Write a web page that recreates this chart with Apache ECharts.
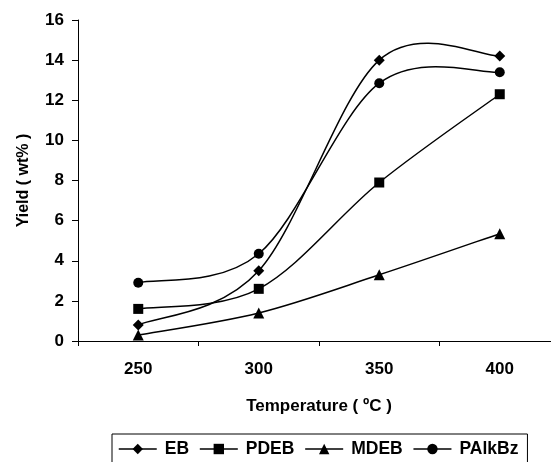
<!DOCTYPE html>
<html>
<head>
<meta charset="utf-8">
<script src="https://cdn.jsdelivr.net/npm/echarts@6/dist/echarts.min.js"></script>
<style>
  html, body { margin: 0; padding: 0; background: #fff; }
  #chart { width: 551px; height: 462px; }
</style>
</head>
<body>
<div id="chart"></div>
<script>
// 温度类目
var temperatures = ["250", "300", "350", "400"];
// 各产物收率 (wt%)
var ebData = [0.8, 3.5, 14.0, 14.2];
var pdebData = [1.6, 2.6, 7.9, 12.3];
var mdebData = [0.3, 1.4, 3.3, 5.35];
var palkbzData = [2.9, 4.35, 12.85, 13.4];

var font = "Arial, 'Liberation Sans', sans-serif";

// 把一条折线拆成若干段，每段带上前后相邻点，用来算平滑曲线
function buildSegments(values) {
  var segs = [];
  var last = values.length - 1;
  for (var i = 0; i < last; i++) {
    segs.push([i, values[i], values[i + 1], values[Math.max(i - 1, 0)], values[Math.min(i + 2, last)]]);
  }
  return segs;
}

// 类似 Excel 的平滑线 (Catmull-Rom)
function renderCurve(params, api) {
  var last = temperatures.length - 1;
  var i = api.value(0);
  var a = api.coord([i, api.value(1)]);
  var b = api.coord([i + 1, api.value(2)]);
  var p = api.coord([Math.max(i - 1, 0), api.value(3)]);
  var n = api.coord([Math.min(i + 2, last), api.value(4)]);
  return {
    type: "bezierCurve",
    shape: {
      x1: a[0], y1: a[1],
      x2: b[0], y2: b[1],
      cpx1: a[0] + (b[0] - p[0]) / 6,
      cpy1: a[1] + (b[1] - p[1]) / 6,
      cpx2: b[0] - (n[0] - a[0]) / 6,
      cpy2: b[1] - (n[1] - a[1]) / 6,
    },
    style: { stroke: "#000", lineWidth: 1.5, fill: null },
    silent: true,
  };
}

function makeCurve(name, data) {
  return {
    name: name + "-curve",
    type: "custom",
    data: buildSegments(data),
    encode: { x: 0, y: 1 },
    renderItem: renderCurve,
    z: 1,
  };
}

function makeSeries(name, data, symbol, size) {
  return {
    name: name,
    type: "line",
    data: data,
    symbol: symbol,
    symbolSize: size,
    color: "#000",
    lineStyle: { color: "#000", width: 1.5, opacity: 0 },
    itemStyle: { color: "#000" },
    z: 3,
  };
}

var chart = echarts.init(document.getElementById("chart"));
chart.setOption({
  animation: false,
  grid: { left: 78, top: 20, width: 482, height: 321, outerBoundsMode: "none" },
  xAxis: {
    type: "category",
    data: temperatures,
    boundaryGap: true,
    name: "Temperature ( ºC )",
    nameLocation: "middle",
    nameGap: 57,
    nameTextStyle: { color: "#000", fontFamily: font, fontWeight: "bold", fontSize: 17 },
    axisLine: { lineStyle: { color: "#000", width: 1 } },
    axisTick: { show: true, length: 5, lineStyle: { color: "#000" } },
    axisLabel: { color: "#000", fontFamily: font, fontWeight: "bold", fontSize: 17, margin: 20 },
    splitLine: { show: false },
  },
  yAxis: {
    type: "value",
    min: 0,
    max: 16,
    interval: 2,
    name: "Yield ( wt% )",
    nameLocation: "middle",
    nameGap: 46,
    nameRotate: 90,
    nameTextStyle: { color: "#000", fontFamily: font, fontWeight: "bold", fontSize: 16 },
    axisLine: { show: true, lineStyle: { color: "#000", width: 1 } },
    axisTick: { show: true, length: 6, lineStyle: { color: "#000" } },
    axisLabel: { color: "#000", fontFamily: font, fontWeight: "bold", fontSize: 17, margin: 14 },
    splitLine: { show: false },
  },
  legend: {
    top: 434,
    left: 112,
    padding: [6, 9, 7, 6],
    itemWidth: 38,
    itemHeight: 13,
    itemGap: 10,
    borderColor: "#000",
    borderWidth: 1,
    lineStyle: { color: "#000", width: 1.5, opacity: 1 },
    textStyle: { color: "#000", fontFamily: font, fontWeight: "bold", fontSize: 17.5, padding: [0, 0, 0, 3] },
    data: ["EB", "PDEB", "MDEB", "PAlkBz"],
  },
  series: [
    makeCurve("EB", ebData),
    makeCurve("PDEB", pdebData),
    makeCurve("MDEB", mdebData),
    makeCurve("PAlkBz", palkbzData),
    makeSeries("EB", ebData, "diamond", 11),
    makeSeries("PDEB", pdebData, "rect", 10),
    makeSeries("MDEB", mdebData, "triangle", 11),
    makeSeries("PAlkBz", palkbzData, "circle", 10),
  ],
});
</script>
</body>
</html>
